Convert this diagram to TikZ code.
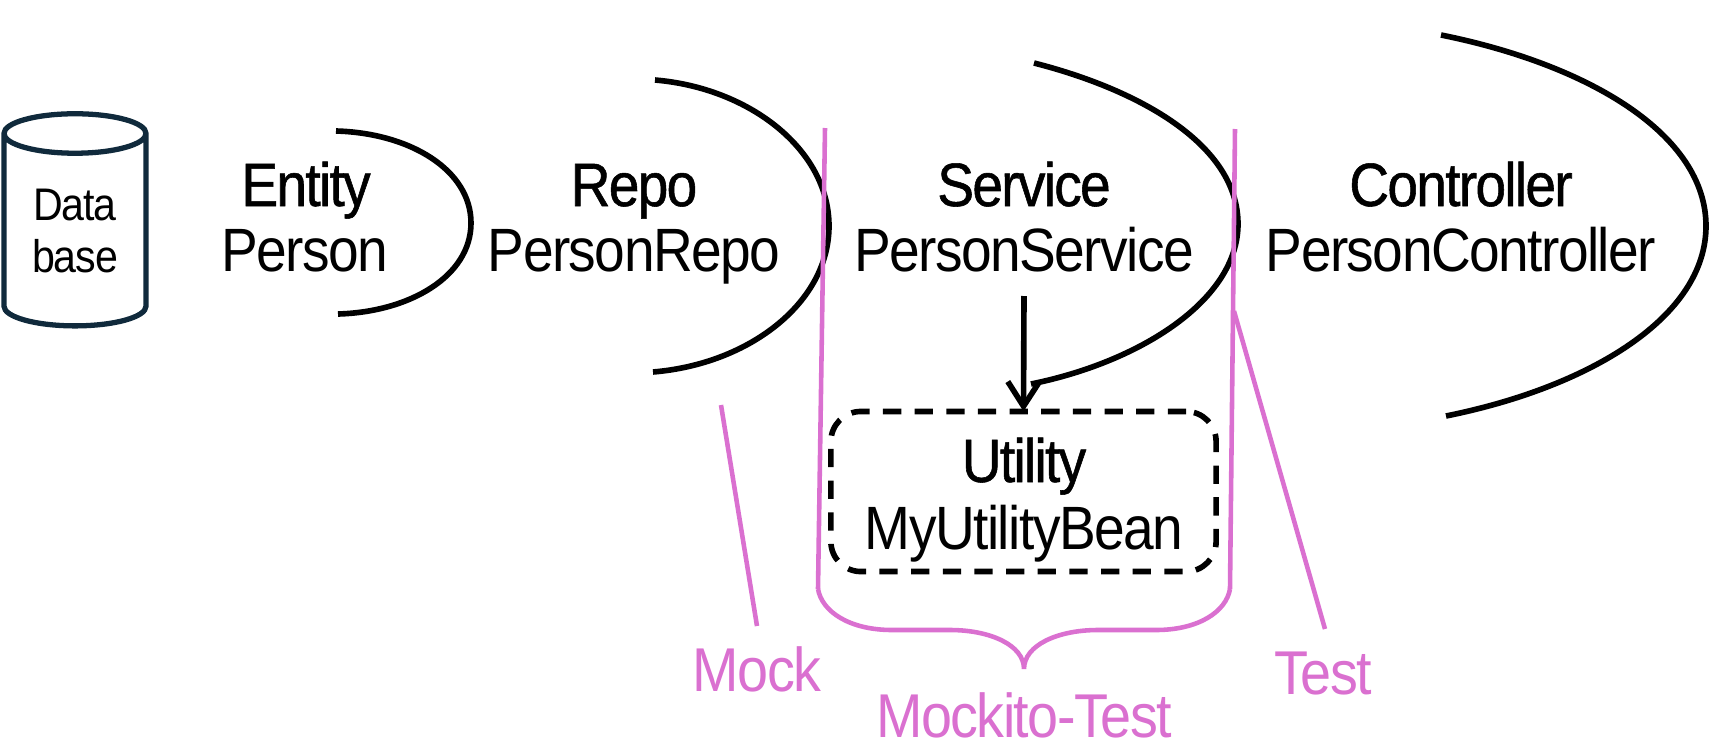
\documentclass[tikz,border=0pt]{standalone}
\usepackage{fontspec}
\setmainfont{Liberation Sans}[FakeStretch=0.9,LetterSpace=-2.5]
\newfontfamily\boldishfont{Liberation Sans}[FakeStretch=0.9,LetterSpace=-2.8,FakeBold=0.9]
\usetikzlibrary{arrows.meta,shapes.geometric}

\definecolor{orchidline}{RGB}{218,112,208}
\definecolor{dbnavy}{RGB}{16,42,60}

\tikzset{
	arcline/.style={line width=1.6pt},
	pinkline/.style={color=orchidline, line width=1.3pt},
	layername/.style={anchor=base, inner sep=0pt, font=\fontsize{17.4}{20}\boldishfont},
	beanname/.style={anchor=base, inner sep=0pt, font=\fontsize{17.4}{20}\selectfont},
	pinklabel/.style={anchor=base, inner sep=0pt, text=orchidline, font=\fontsize{17.6}{20}\selectfont},
}

\begin{document}
\begin{tikzpicture}[x=0.01cm, y=-0.01cm]
	\useasboundingbox (0,0) rectangle (1711,754);

	% Database on the far left
	\node [cylinder, shape border rotate=90, aspect=0.46, draw=dbnavy, line width=1.5pt, minimum width=1.42cm, minimum height=2.12cm, inner sep=0pt, outer sep=0pt, align=center, font=\fontsize{13}{15}\selectfont] (database) at (75,231) {Data\\base};

	% Layer arcs, from left to right
	\draw [arcline] (336,131) .. controls (410,133) and (471,170) .. (471,223) .. controls (471,276) and (410,312) .. (338,314);
	\draw [arcline] (655,80) .. controls (750,88) and (829,150) .. (829,226) .. controls (829,302) and (750,364) .. (653,372);
	\draw [arcline] (1034,63) .. controls (1140,90) and (1238,145) .. (1238,224) .. controls (1238,300) and (1140,362) .. (1031,384);
	\draw [arcline] (1441,35) .. controls (1590,65) and (1706,135) .. (1706,226) .. controls (1706,317) and (1590,387) .. (1446,416);

	\node [layername] (entity) at (306,206) {Entity};
	\node [beanname] (person) at (305,271) {Person};
	\node [layername] (repo) at (634,206) {Repo};
	\node [beanname] (personrepo) at (634,271) {PersonRepo};
	\node [layername] (service) at (1024,206) {Service};
	\node [beanname] (personservice) at (1024,271) {PersonService};
	\node [layername] (controller) at (1461,206) {Controller};
	\node [beanname] (personcontroller) at (1461,271) {PersonController};

	% Utility bean in its dashed box
	\node [draw, dash pattern=on 5.2pt off 3.8pt, rounded corners=0.3cm, line width=1.6pt, minimum width=3.85cm, minimum height=1.6cm, outer sep=0pt] (utilitybox) at (1023.5,491.5) {};
	\node [layername] (utility) at (1024,482) {Utility};
	\node [beanname] (utilitybean) at (1024,549) {MyUtilityBean};
	\coordinate (arrowstart) at (1024,296);
	\draw [-{Straight Barb[length=7pt,width=9pt]}, line width=1.6pt] (arrowstart) -- (utilitybox.north);

	% Pink test slices and their brace
	\coordinate (leftcuttop) at (825,128);
	\coordinate (leftcutend) at (818,589);
	\coordinate (rightcuttop) at (1235,129);
	\coordinate (rightcutend) at (1230,589);
	\coordinate (bracetip) at (1024,669);
	\draw [pinkline] (leftcuttop) -- (leftcutend);
	\draw [pinkline] (rightcuttop) -- (rightcutend);
	\draw [pinkline] (leftcutend) .. controls (822,612) and (850,630) .. (892,630) -- (950,630) .. controls (990,630) and (1024,645) .. (bracetip) .. controls (1024,645) and (1058,630) .. (1098,630) -- (1156,630) .. controls (1198,630) and (1226,612) .. (rightcutend);

	\node [pinklabel] (mock) at (757,691) {Mock};
	\node [pinklabel] (mockitotest) at (1024,737) {Mockito-Test};
	\node [pinklabel] (test) at (1323,694) {Test};
	\coordinate (mocktop) at (721,405);
	\coordinate (mockend) at (757,626);
	\coordinate (testtop) at (1234,311);
	\coordinate (testend) at (1325,629);
	\draw [pinkline] (mocktop) -- (mockend);
	\draw [pinkline] (testtop) -- (testend);
\end{tikzpicture}
\end{document}
